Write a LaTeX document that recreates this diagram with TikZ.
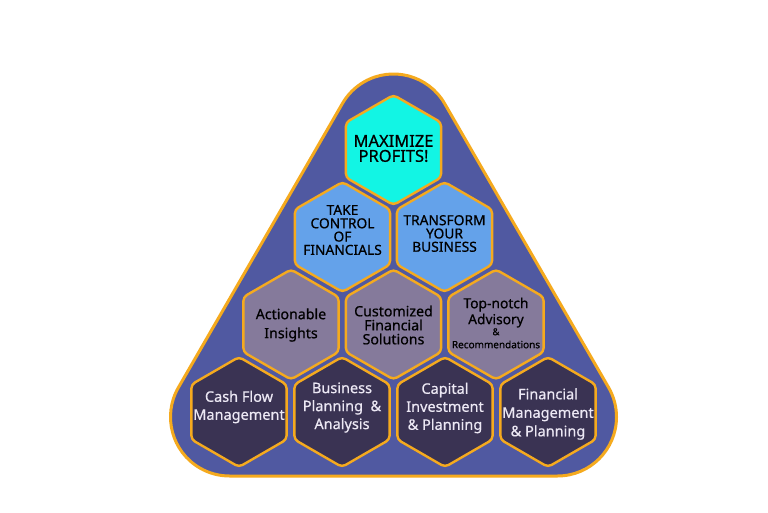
\documentclass[tikz,border=0pt]{standalone}
\usepackage{fontspec}
\setmainfont{Noto Sans}[FakeBold=0.6]
\usetikzlibrary{calc}
\definecolor{bgblue}{HTML}{5059A1}
\definecolor{orng}{HTML}{F5AA1E}
\definecolor{hcyan}{HTML}{12F5E4}
\definecolor{hblue}{HTML}{64A2EA}
\definecolor{hgray}{HTML}{857A9B}
\definecolor{hdark}{HTML}{3A3353}
\definecolor{ltext}{HTML}{ECE8F4}
\tikzset{
  hexline/.style={draw=orng, line width=2.4pt, rounded corners=4pt},
  lbl/.style={align=center, inner sep=0pt},
}
\newcommand\hexa[3]{%
  \draw[hexline, fill=#3] (#1,#2) +(90:55pt) -- +(150:55pt) -- +(210:55pt)
    -- +(270:55pt) -- +(330:55pt) -- +(30:55pt) -- cycle;}
\begin{document}
\begin{tikzpicture}[x=1pt,y=1pt]
\useasboundingbox (0,0) rectangle (768,512);
\fill[white] (0,0) rectangle (768,512);
\coordinate (C1) at (393.5,379);
\coordinate (C2) at (229.5,95);
\coordinate (C3) at (557.5,95);
\draw[line width=3pt, draw=orng, fill=bgblue]
  ($(C1)+(30:59pt)$) arc[start angle=30,end angle=150,radius=59pt]
  -- ($(C2)+(150:59pt)$) arc[start angle=150,end angle=270,radius=59pt]
  -- ($(C3)+(270:59pt)$) arc[start angle=270,end angle=390,radius=59pt]
  -- cycle;
% row 1
\hexa{393.5}{362}{hcyan}
% row 2
\hexa{342.5}{275}{hblue}
\hexa{444.5}{275}{hblue}
% row 3
\hexa{291}{187.5}{hgray}
\hexa{393.5}{187.5}{hgray}
\hexa{496}{187.5}{hgray}
% row 4
\hexa{239}{100}{hdark}
\hexa{342}{100}{hdark}
\hexa{445}{100}{hdark}
\hexa{548}{100}{hdark}
% labels
\node[lbl, font=\fontsize{16.5}{15}\selectfont] (max) at (393.5,363.5) {MAXIMIZE\\PROFITS!};
\node[lbl, font=\fontsize{13.8}{13.3}\selectfont] (take) at (342.5,282) {TAKE\\CONTROL\\OF\\FINANCIALS};
\node[lbl, font=\fontsize{13.8}{13.3}\selectfont] (trans) at (444.5,278.5) {TRANSFORM\\YOUR\\BUSINESS};
\node[lbl, font=\fontsize{14.2}{19}\selectfont] (act) at (291,187) {Actionable\\Insights};
\node[lbl, font=\fontsize{14.2}{14}\selectfont] (cust) at (393.5,187) {Customized\\Financial\\Solutions};
\node[lbl, font=\fontsize{13.8}{16}\selectfont] (top) at (496,189) {Top-notch\\Advisory\\[-5pt]{\fontsize{9.5}{10}\selectfont \&}\\[-3pt]{\fontsize{10}{10}\selectfont Recommendations}};
\node[lbl, text=ltext, font=\fontsize{14.5}{18}\selectfont] (cash) at (239,105) {Cash Flow\\Management};
\node[lbl, text=ltext, font=\fontsize{14.5}{18}\selectfont] (bus) at (342,104.5) {Business\\Planning\ \ \&\\Analysis};
\node[lbl, text=ltext, font=\fontsize{14.5}{18}\selectfont] (cap) at (445,104) {Capital\\Investment\\\&~Planning};
\node[lbl, text=ltext, font=\fontsize{14.5}{18.5}\selectfont] (fin) at (548,98) {Financial\\Management\\\&~Planning};
\end{tikzpicture}
\end{document}
